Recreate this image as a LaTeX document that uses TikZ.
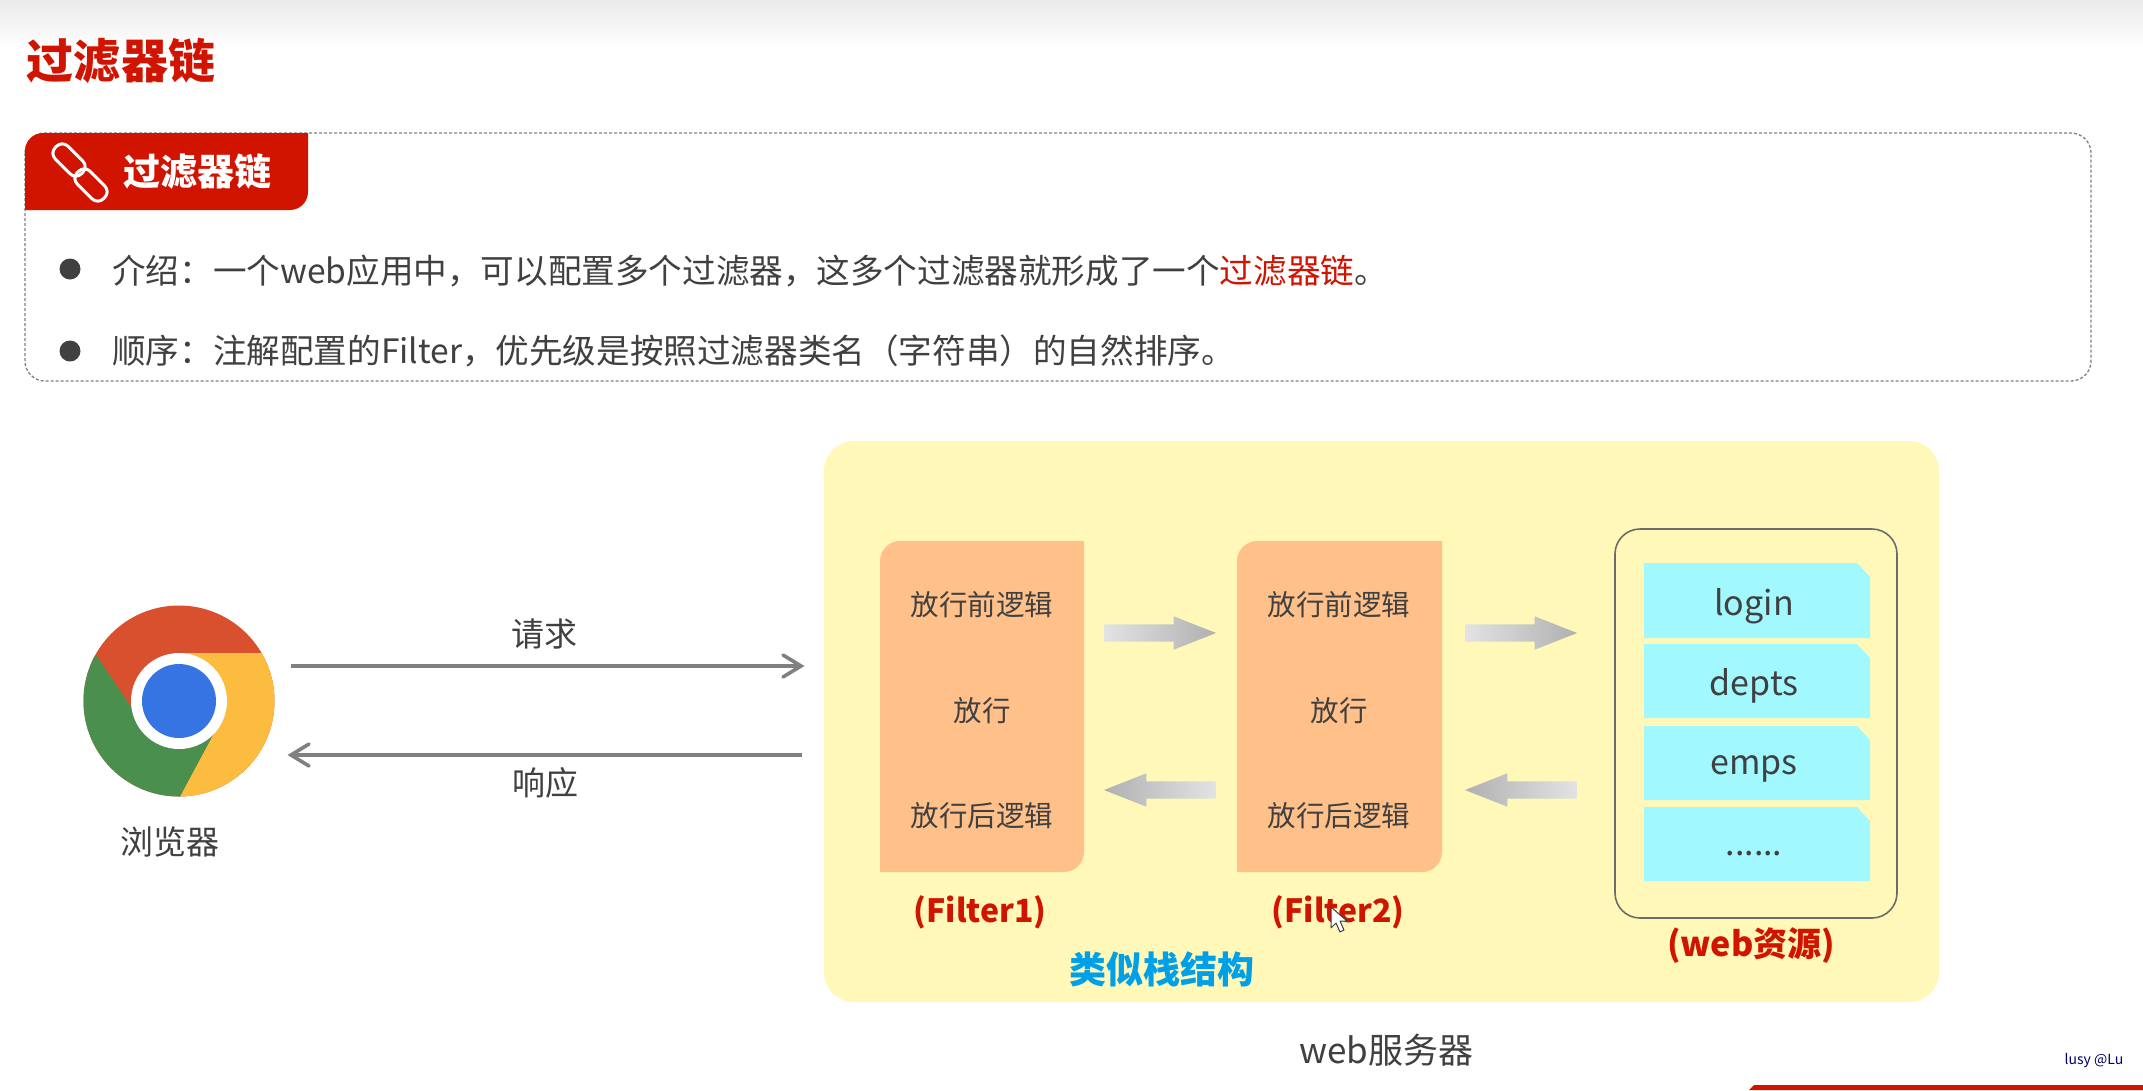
\documentclass[tikz,border=0pt]{standalone}
\usepackage{fontspec}
\setmainfont{Noto Sans CJK SC}
\usetikzlibrary{shapes.arrows}
\definecolor{redm}{HTML}{D01400}
\definecolor{inkm}{HTML}{404040}
\definecolor{yellowm}{HTML}{FFF8B8}
\definecolor{orangem}{HTML}{FFC08A}
\definecolor{cyanm}{HTML}{A2F8FF}
\definecolor{linem}{HTML}{808080}
\definecolor{bluem}{HTML}{00A0E9}
\definecolor{chromered}{HTML}{D9502F}
\definecolor{chromeyellow}{HTML}{FBBC3F}
\definecolor{chromegreen}{HTML}{4A8F4D}
\definecolor{chromeblue}{HTML}{3574E2}
\newcommand{\fs}[1]{\fontsize{#1}{#1}\selectfont}
\tikzset{
  lbl/.style={inner sep=0pt,text=inkm,font=\fs{33}},
  bodytxt/.style={inner sep=0pt,text=inkm,font=\fs{33.6}},
  rowtxt/.style={inner sep=0pt,text=inkm,font=\fs{28.5}},
  redlbl/.style={inner sep=0pt,text=redm,font=\fs{34}\bfseries},
  bull/.style={circle,fill=inkm,minimum size=21pt,inner sep=0pt},
  reqline/.style={draw=linem,line width=3.6pt},
  openhead/.style={line width=3.6pt,draw=linem,line cap=round,line join=miter},
  blockfwd/.style={single arrow,minimum height=112pt,text width=1pt,text height=17pt,text depth=0pt,inner sep=0pt,
    single arrow head extend=8pt,single arrow tip angle=43,single arrow head indent=0pt,
    left color=gray!22,right color=gray!62,draw=none},
  blockback/.style={blockfwd,shape border rotate=180,left color=gray!62,right color=gray!22},
  link/.style={draw=white,line width=3pt,rounded corners=8pt,minimum width=37pt,minimum height=18pt,inner sep=0pt,rotate=-45}
}
\newcommand{\resbox}[2]{\fill[cyanm] (1644,#1) -- (1857,#1) -- (1870,#1+14) -- (1870,#2) -- (1644,#2) -- cycle;}
\newcommand{\filterbox}[2]{\fill[orangem] (#1,872) [rounded corners=20pt] -- (#1,541) [sharp corners] -- (#2,541) [rounded corners=20pt] -- (#2,872) [sharp corners] -- cycle;}
\begin{document}
\begin{tikzpicture}[x=1pt,y=-1pt]
\useasboundingbox (0,0) rectangle (2143,1090);
\fill[white] (0,0) rectangle (2143,1090);
\shade[top color=black!8,bottom color=white] (0,0) rectangle (2143,50);
\node[anchor=center,inner sep=0pt,text=redm,font=\fs{47}\bfseries] (title) at (121,61) {过滤器链};

% panel
\draw[draw=gray,line width=1.3pt,densely dashed,rounded corners=20pt] (25,133) rectangle (2091,381);
\fill[redm] (25,210) [rounded corners=18pt] -- (25,133) [sharp corners] -- (308,133) [rounded corners=18pt] -- (308,210) [sharp corners] -- cycle;
\node[link] (link1) at (69,160) {};
\node[link] (link2) at (91,185) {};
\node[anchor=west,inner sep=0pt,text=white,font=\fs{37}\bfseries] (tabtxt) at (123,172) {过滤器链};
\node[bull] (b1) at (70,269) {};
\node[bull] (b2) at (70,351) {};
\node[bodytxt,anchor=west] (t1) at (112,271) {介绍：一个web应用中，可以配置多个过滤器，这多个过滤器就形成了一个\textcolor{redm}{过滤器链}。};
\node[bodytxt,anchor=west] (t2) at (112,351) {顺序：注解配置的Filter，优先级是按照过滤器类名（字符串）的自然排序。};

% browser icon
\begin{scope}
\clip (179,701) circle (95.5pt);
\fill[chromered] (60,600) rectangle (300,800);
\fill[chromeyellow] (179,653) -- (300,653) -- (300,800) -- (178,800) -- (214,733) -- cycle;
\fill[chromegreen] (96,655) -- (140,720) -- (178,749) -- (214,733) -- (178,800) -- (60,800) -- (60,655) -- cycle;
\end{scope}
\fill[white] (179,701) circle (48pt);
\node[circle,fill=chromeblue,minimum size=74pt,inner sep=0pt] (browser) at (179,701) {};
\node[lbl] (browsertxt) at (170,842) {浏览器};

% server
\fill[yellowm,rounded corners=30pt] (824,441) rectangle (1939,1002);
\node[lbl,font=\fs{35}] (servertxt) at (1386,1050) {web服务器};
\coordinate (reqa) at (291,666);
\coordinate (reqb) at (801,666);
\coordinate (resa) at (802,755);
\coordinate (resb) at (291,755);
\draw[reqline] (reqa) -- (reqb);
\draw[openhead] ([shift={(-18,-11)}]reqb) -- (reqb) -- ([shift={(-18,11)}]reqb);
\draw[reqline] (resa) -- (resb);
\draw[openhead] ([shift={(18,-11)}]resb) -- (resb) -- ([shift={(18,11)}]resb);
\node[lbl] (req) at (544,634) {请求};
\node[lbl] (res) at (545,783) {响应};

% filters
\filterbox{880}{1084}
\filterbox{1237}{1442}
\node[rowtxt] (f1a) at (982,605) {放行前逻辑};
\node[rowtxt] (f1b) at (982,711) {放行};
\node[rowtxt] (f1c) at (982,816) {放行后逻辑};
\node[rowtxt] (f2a) at (1339,605) {放行前逻辑};
\node[rowtxt] (f2b) at (1339,711) {放行};
\node[rowtxt] (f2c) at (1339,816) {放行后逻辑};
\node[redlbl,font=\fs{32}\bfseries] (f1) at (980,912) {(Filter1)};
\node[redlbl,font=\fs{32}\bfseries] (f2) at (1338,912) {(Filter2)};
\node[inner sep=0pt,text=bluem,font=\fs{37}\bfseries] (stack) at (1162,969) {类似栈结构};

% block arrows
\node[blockfwd] (ar1) at (1149,633) {};
\node[blockfwd] (ar2) at (1510,633) {};
\node[blockback] (ar3) at (1171,790) {};
\node[blockback] (ar4) at (1532,790) {};

% resources
\draw[draw=gray!85!black,line width=1.6pt,rounded corners=25pt] (1615,529) rectangle (1897,918);
\resbox{563}{638}
\resbox{644}{718}
\resbox{726}{800}
\resbox{807}{881}
\node[lbl,font=\fs{34}] (r1) at (1754,606) {login};
\node[lbl,font=\fs{34}] (r2) at (1754,686) {depts};
\node[lbl,font=\fs{34}] (r3) at (1754,769) {emps};
\node[lbl,font=\fs{34}] (r4) at (1754,854) {......};
\node[redlbl] (webres) at (1751,946) {(web资源)};

% cursor
\draw[fill=white,draw=inkm,line width=1pt,line join=round] (1331,907) -- (1331,928) -- (1336,923) -- (1340,932) -- (1344,930) -- (1340,921) -- (1347,921) -- cycle;

% footer
\node[inner sep=0pt,text=blue!40!black,font=\fs{14}] (wm) at (2094,1061) {lusy @Lu};
\fill[redm] (1749,1090) -- (1754,1085) -- (2143,1085) -- (2143,1090) -- cycle;
\end{tikzpicture}
\end{document}
